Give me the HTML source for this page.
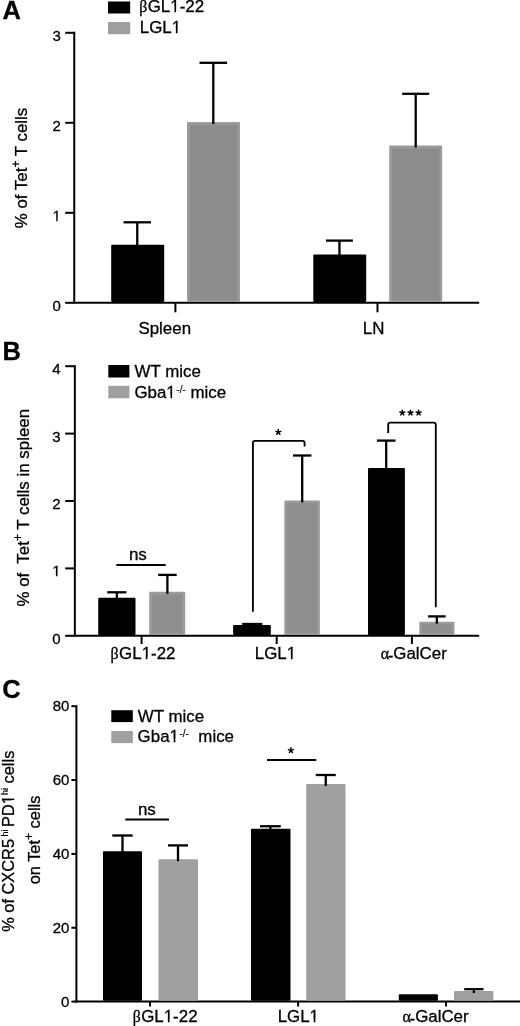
<!DOCTYPE html>
<html><head><meta charset="utf-8"><style>
html,body{margin:0;padding:0;background:#fff;width:520px;height:1026px;overflow:hidden}
svg{display:block;will-change:transform}
text{font-family:"Liberation Sans", sans-serif;fill:#000;stroke:#000;stroke-width:0.3px}
</style></head><body>
<svg width="520" height="1026" viewBox="0 0 520 1026">
<text x="2.60" y="18.80" font-size="25.5" text-anchor="start" font-weight="bold">A</text>
<line x1="65.20" y1="302.80" x2="74.25" y2="302.80" stroke="#000" stroke-width="2.0" stroke-linecap="butt"/>
<text x="60.80" y="310.80" font-size="15" text-anchor="end" font-weight="normal">0</text>
<line x1="65.20" y1="212.80" x2="74.25" y2="212.80" stroke="#000" stroke-width="2.0" stroke-linecap="butt"/>
<text x="60.80" y="220.80" font-size="15" text-anchor="end" font-weight="normal">1</text>
<line x1="65.20" y1="122.80" x2="74.25" y2="122.80" stroke="#000" stroke-width="2.0" stroke-linecap="butt"/>
<text x="60.80" y="130.80" font-size="15" text-anchor="end" font-weight="normal">2</text>
<line x1="65.20" y1="32.80" x2="74.25" y2="32.80" stroke="#000" stroke-width="2.0" stroke-linecap="butt"/>
<text x="60.80" y="40.80" font-size="15" text-anchor="end" font-weight="normal">3</text>
<line x1="74.25" y1="31.80" x2="74.25" y2="303.80" stroke="#000" stroke-width="2.0" stroke-linecap="butt"/>
<line x1="74.25" y1="302.80" x2="479.20" y2="302.80" stroke="#000" stroke-width="2.0" stroke-linecap="butt"/>
<line x1="175.40" y1="302.80" x2="175.40" y2="312.30" stroke="#000" stroke-width="2.0" stroke-linecap="butt"/>
<line x1="377.50" y1="302.80" x2="377.50" y2="312.30" stroke="#000" stroke-width="2.0" stroke-linecap="butt"/>
<text x="164.75" y="334.20" font-size="16.9" text-anchor="middle" font-weight="normal">Spleen</text>
<text x="373.60" y="334.40" font-size="16.9" text-anchor="middle" font-weight="normal">LN</text>
<g transform="translate(27.00,168.00) rotate(-90)"><text x="0" y="0" font-size="16.9" text-anchor="middle">% of Tet<tspan font-size="12" dy="-7.2">+</tspan><tspan dy="7.2"> T cells</tspan></text></g>
<rect x="111.20" y="244.80" width="53.00" height="57.20" rx="1" fill="#000"/>
<line x1="137.25" y1="222.30" x2="137.25" y2="245.80" stroke="#000" stroke-width="2.3" stroke-linecap="butt"/>
<line x1="123.50" y1="222.30" x2="151.00" y2="222.30" stroke="#000" stroke-width="2.3" stroke-linecap="butt"/>
<rect x="187.00" y="122.00" width="53.00" height="180.00" rx="1" fill="#9b9b9b"/>
<rect x="189.80" y="124.80" width="47.40" height="175.70" rx="0" fill="#8c8c8c"/>
<line x1="213.30" y1="62.80" x2="213.30" y2="124.00" stroke="#000" stroke-width="2.3" stroke-linecap="butt"/>
<line x1="199.50" y1="62.80" x2="227.10" y2="62.80" stroke="#000" stroke-width="2.3" stroke-linecap="butt"/>
<rect x="313.30" y="254.60" width="52.90" height="47.40" rx="1" fill="#000"/>
<line x1="339.45" y1="240.60" x2="339.45" y2="255.60" stroke="#000" stroke-width="2.3" stroke-linecap="butt"/>
<line x1="326.00" y1="240.60" x2="352.90" y2="240.60" stroke="#000" stroke-width="2.3" stroke-linecap="butt"/>
<rect x="389.20" y="145.50" width="53.00" height="156.50" rx="1" fill="#9b9b9b"/>
<rect x="392.00" y="148.30" width="47.40" height="152.20" rx="0" fill="#8c8c8c"/>
<line x1="415.70" y1="93.80" x2="415.70" y2="147.50" stroke="#000" stroke-width="2.3" stroke-linecap="butt"/>
<line x1="402.20" y1="93.80" x2="429.20" y2="93.80" stroke="#000" stroke-width="2.3" stroke-linecap="butt"/>
<rect x="108.00" y="1.50" width="22.20" height="12.00" rx="0" fill="#000"/>
<text x="139.20" y="12.30" font-size="16.9" text-anchor="start" font-weight="normal"><tspan font-family="Liberation Serif" font-size="15.8">β</tspan><tspan dx="0.5">GL1-22</tspan></text>
<rect x="108.00" y="22.00" width="22.20" height="12.20" rx="0" fill="#a0a0a0"/>
<text x="139.80" y="33.20" font-size="16.9" text-anchor="start" font-weight="normal">LGL1</text>
<text x="2.40" y="360.40" font-size="25.5" text-anchor="start" font-weight="bold">B</text>
<line x1="65.20" y1="635.80" x2="74.85" y2="635.80" stroke="#000" stroke-width="2.0" stroke-linecap="butt"/>
<text x="60.60" y="643.80" font-size="15" text-anchor="end" font-weight="normal">0</text>
<line x1="65.20" y1="568.40" x2="74.85" y2="568.40" stroke="#000" stroke-width="2.0" stroke-linecap="butt"/>
<text x="60.60" y="576.40" font-size="15" text-anchor="end" font-weight="normal">1</text>
<line x1="65.20" y1="501.00" x2="74.85" y2="501.00" stroke="#000" stroke-width="2.0" stroke-linecap="butt"/>
<text x="60.60" y="509.00" font-size="15" text-anchor="end" font-weight="normal">2</text>
<line x1="65.20" y1="433.60" x2="74.85" y2="433.60" stroke="#000" stroke-width="2.0" stroke-linecap="butt"/>
<text x="60.60" y="441.60" font-size="15" text-anchor="end" font-weight="normal">3</text>
<line x1="65.20" y1="366.20" x2="74.85" y2="366.20" stroke="#000" stroke-width="2.0" stroke-linecap="butt"/>
<text x="60.60" y="374.20" font-size="15" text-anchor="end" font-weight="normal">4</text>
<line x1="74.85" y1="365.20" x2="74.85" y2="636.80" stroke="#000" stroke-width="2.0" stroke-linecap="butt"/>
<line x1="74.85" y1="635.80" x2="479.20" y2="635.80" stroke="#000" stroke-width="2.0" stroke-linecap="butt"/>
<line x1="141.60" y1="635.80" x2="141.60" y2="644.00" stroke="#000" stroke-width="2.0" stroke-linecap="butt"/>
<line x1="276.70" y1="635.80" x2="276.70" y2="644.00" stroke="#000" stroke-width="2.0" stroke-linecap="butt"/>
<line x1="411.90" y1="635.80" x2="411.90" y2="644.00" stroke="#000" stroke-width="2.0" stroke-linecap="butt"/>
<text x="143.00" y="659.30" font-size="16.9" text-anchor="middle" font-weight="normal"><tspan font-family="Liberation Serif" font-size="15.8">β</tspan><tspan dx="0.5">GL1-22</tspan></text>
<text x="275.50" y="659.30" font-size="16.9" text-anchor="middle" font-weight="normal">LGL1</text>
<text x="413.70" y="659.30" font-size="16.9" text-anchor="middle" font-weight="normal"><tspan font-family="Liberation Serif" font-size="16">α</tspan><tspan dx="-1.4" dy="1.6">-</tspan><tspan dy="-1.6">GalCer</tspan></text>
<g transform="translate(28.70,507.70) rotate(-90)"><text x="0" y="0" font-size="16.9" text-anchor="middle">% of&#160; Tet<tspan font-size="12" dy="-7.2">+</tspan><tspan dy="7.2"> T cells in spleen</tspan></text></g>
<rect x="98.20" y="597.70" width="37.30" height="37.30" rx="1" fill="#000"/>
<line x1="116.85" y1="592.30" x2="116.85" y2="598.70" stroke="#000" stroke-width="2.3" stroke-linecap="butt"/>
<line x1="107.30" y1="592.30" x2="126.40" y2="592.30" stroke="#000" stroke-width="2.3" stroke-linecap="butt"/>
<rect x="149.20" y="591.80" width="36.00" height="43.20" rx="1" fill="#9b9b9b"/>
<rect x="152.00" y="594.60" width="30.40" height="38.90" rx="0" fill="#8e8e8e"/>
<line x1="167.40" y1="574.90" x2="167.40" y2="593.80" stroke="#000" stroke-width="2.3" stroke-linecap="butt"/>
<line x1="158.10" y1="574.90" x2="176.70" y2="574.90" stroke="#000" stroke-width="2.3" stroke-linecap="butt"/>
<rect x="233.10" y="625.00" width="37.70" height="10.00" rx="1" fill="#000"/>
<line x1="252.25" y1="624.00" x2="252.25" y2="626.00" stroke="#000" stroke-width="2.3" stroke-linecap="butt"/>
<line x1="242.20" y1="624.00" x2="262.30" y2="624.00" stroke="#000" stroke-width="2.3" stroke-linecap="butt"/>
<rect x="284.30" y="500.40" width="35.60" height="134.60" rx="1" fill="#9b9b9b"/>
<rect x="287.10" y="503.20" width="30.00" height="130.30" rx="0" fill="#8e8e8e"/>
<line x1="302.20" y1="455.50" x2="302.20" y2="502.40" stroke="#000" stroke-width="2.3" stroke-linecap="butt"/>
<line x1="293.00" y1="455.50" x2="311.40" y2="455.50" stroke="#000" stroke-width="2.3" stroke-linecap="butt"/>
<rect x="368.00" y="468.10" width="36.90" height="166.90" rx="1" fill="#000"/>
<line x1="386.20" y1="440.60" x2="386.20" y2="469.10" stroke="#000" stroke-width="2.3" stroke-linecap="butt"/>
<line x1="376.90" y1="440.60" x2="395.50" y2="440.60" stroke="#000" stroke-width="2.3" stroke-linecap="butt"/>
<rect x="419.30" y="621.70" width="35.20" height="13.30" rx="1" fill="#9b9b9b"/>
<rect x="422.10" y="624.50" width="29.60" height="9.00" rx="0" fill="#8e8e8e"/>
<line x1="436.85" y1="616.40" x2="436.85" y2="623.70" stroke="#000" stroke-width="2.3" stroke-linecap="butt"/>
<line x1="428.10" y1="616.40" x2="445.60" y2="616.40" stroke="#000" stroke-width="2.3" stroke-linecap="butt"/>
<line x1="116.40" y1="565.00" x2="165.70" y2="565.00" stroke="#000" stroke-width="2.0" stroke-linecap="butt"/>
<text x="137.90" y="559.60" font-size="17" text-anchor="middle" font-weight="normal">ns</text>
<path d="M252.9,611.7L252.9,443.0Q252.9,440.8 255.1,440.8L302.40000000000003,440.8Q304.6,440.8 304.6,443.0L304.6,446.4" fill="none" stroke="#000" stroke-width="1.85"/>
<path d="M278.30,432.20L278.30,429.60M278.30,432.20L280.77,431.40M278.30,432.20L279.83,434.30M278.30,432.20L276.77,434.30M278.30,432.20L275.83,431.40" stroke="#000" stroke-width="1.5" stroke-linecap="round" fill="none"/>
<path d="M388.2,433.0L388.2,424.8Q388.2,422.6 390.4,422.6L433.6,422.6Q435.8,422.6 435.8,424.8L435.8,607.2" fill="none" stroke="#000" stroke-width="1.85"/>
<path d="M402.30,412.80L402.30,410.20M402.30,412.80L404.77,412.00M402.30,412.80L403.83,414.90M402.30,412.80L400.77,414.90M402.30,412.80L399.83,412.00" stroke="#000" stroke-width="1.5" stroke-linecap="round" fill="none"/>
<path d="M410.50,412.80L410.50,410.20M410.50,412.80L412.97,412.00M410.50,412.80L412.03,414.90M410.50,412.80L408.97,414.90M410.50,412.80L408.03,412.00" stroke="#000" stroke-width="1.5" stroke-linecap="round" fill="none"/>
<path d="M418.60,412.80L418.60,410.20M418.60,412.80L421.07,412.00M418.60,412.80L420.13,414.90M418.60,412.80L417.07,414.90M418.60,412.80L416.13,412.00" stroke="#000" stroke-width="1.5" stroke-linecap="round" fill="none"/>
<rect x="108.30" y="365.00" width="21.10" height="12.50" rx="0" fill="#000"/>
<text x="134.60" y="376.70" font-size="16.9" text-anchor="start" font-weight="normal">WT mice</text>
<rect x="108.30" y="385.80" width="21.10" height="12.50" rx="0" fill="#a0a0a0"/>
<text x="134.40" y="397.80" font-size="16.9" text-anchor="start" font-weight="normal">Gba1<tspan font-size="10" dx="0.6" dy="-5" style="stroke-width:0.12px">-/-</tspan><tspan dy="5"> mice</tspan></text>
<text x="2.20" y="698.00" font-size="25.5" text-anchor="start" font-weight="bold">C</text>
<line x1="71.40" y1="1001.60" x2="76.40" y2="1001.60" stroke="#000" stroke-width="2.0" stroke-linecap="butt"/>
<text x="69.40" y="1006.60" font-size="15" text-anchor="end" font-weight="normal">0</text>
<line x1="71.40" y1="927.75" x2="76.40" y2="927.75" stroke="#000" stroke-width="2.0" stroke-linecap="butt"/>
<text x="69.40" y="932.75" font-size="15" text-anchor="end" font-weight="normal">20</text>
<line x1="71.40" y1="853.90" x2="76.40" y2="853.90" stroke="#000" stroke-width="2.0" stroke-linecap="butt"/>
<text x="69.40" y="858.90" font-size="15" text-anchor="end" font-weight="normal">40</text>
<line x1="71.40" y1="780.05" x2="76.40" y2="780.05" stroke="#000" stroke-width="2.0" stroke-linecap="butt"/>
<text x="69.40" y="785.05" font-size="15" text-anchor="end" font-weight="normal">60</text>
<line x1="71.40" y1="706.20" x2="76.40" y2="706.20" stroke="#000" stroke-width="2.0" stroke-linecap="butt"/>
<text x="69.40" y="711.20" font-size="15" text-anchor="end" font-weight="normal">80</text>
<line x1="76.40" y1="705.20" x2="76.40" y2="1002.60" stroke="#000" stroke-width="2.0" stroke-linecap="butt"/>
<line x1="76.40" y1="1001.60" x2="520.00" y2="1001.60" stroke="#000" stroke-width="2.0" stroke-linecap="butt"/>
<line x1="150.00" y1="1001.60" x2="150.00" y2="1006.50" stroke="#000" stroke-width="2.0" stroke-linecap="butt"/>
<line x1="298.10" y1="1001.60" x2="298.10" y2="1006.50" stroke="#000" stroke-width="2.0" stroke-linecap="butt"/>
<line x1="446.00" y1="1001.60" x2="446.00" y2="1006.50" stroke="#000" stroke-width="2.0" stroke-linecap="butt"/>
<text x="165.10" y="1021.90" font-size="16.9" text-anchor="middle" font-weight="normal"><tspan font-family="Liberation Serif" font-size="15.8">β</tspan><tspan dx="0.5">GL1-22</tspan></text>
<text x="298.30" y="1021.90" font-size="16.9" text-anchor="middle" font-weight="normal">LGL1</text>
<text x="435.60" y="1021.90" font-size="16.9" text-anchor="middle" font-weight="normal"><tspan font-family="Liberation Serif" font-size="16">α</tspan><tspan dx="-1.4" dy="1.6">-</tspan><tspan dy="-1.6">GalCer</tspan></text>
<g transform="translate(13.60,841.25) rotate(-90)"><text x="0" y="0" font-size="16.4" text-anchor="middle">% of CXCR5<tspan font-size="9" dy="-5.5" style="stroke-width:0.12px">&#160;hi&#160;</tspan><tspan dy="5.5">PD1</tspan><tspan font-size="9" dy="-5.5" style="stroke-width:0.12px">hi</tspan><tspan dy="5.5"> cells</tspan></text></g>
<g transform="translate(39.80,840.00) rotate(-90)"><text x="0" y="0" font-size="16.4" text-anchor="middle">on Tet<tspan font-size="12" dy="-7.2">+</tspan><tspan dy="7.2"> cells</tspan></text></g>
<rect x="103.00" y="851.30" width="39.00" height="149.50" rx="1" fill="#000"/>
<line x1="122.50" y1="835.50" x2="122.50" y2="852.30" stroke="#000" stroke-width="2.3" stroke-linecap="butt"/>
<line x1="112.30" y1="835.50" x2="132.70" y2="835.50" stroke="#000" stroke-width="2.3" stroke-linecap="butt"/>
<rect x="158.50" y="859.20" width="39.50" height="141.60" rx="1" fill="#a0a0a0"/>
<line x1="178.00" y1="845.40" x2="178.00" y2="861.20" stroke="#000" stroke-width="2.3" stroke-linecap="butt"/>
<line x1="168.00" y1="845.40" x2="188.00" y2="845.40" stroke="#000" stroke-width="2.3" stroke-linecap="butt"/>
<rect x="251.00" y="828.75" width="39.50" height="172.05" rx="1" fill="#000"/>
<line x1="270.38" y1="826.25" x2="270.38" y2="829.75" stroke="#000" stroke-width="2.3" stroke-linecap="butt"/>
<line x1="260.00" y1="826.25" x2="280.75" y2="826.25" stroke="#000" stroke-width="2.3" stroke-linecap="butt"/>
<rect x="306.20" y="784.00" width="39.30" height="216.80" rx="1" fill="#a0a0a0"/>
<line x1="325.75" y1="775.00" x2="325.75" y2="786.00" stroke="#000" stroke-width="2.3" stroke-linecap="butt"/>
<line x1="315.75" y1="775.00" x2="335.75" y2="775.00" stroke="#000" stroke-width="2.3" stroke-linecap="butt"/>
<rect x="398.80" y="994.20" width="39.10" height="6.60" rx="1" fill="#000"/>
<rect x="454.00" y="991.00" width="39.30" height="9.80" rx="1" fill="#a0a0a0"/>
<line x1="473.85" y1="989.20" x2="473.85" y2="993.00" stroke="#000" stroke-width="2.3" stroke-linecap="butt"/>
<line x1="464.20" y1="989.20" x2="483.50" y2="989.20" stroke="#000" stroke-width="2.3" stroke-linecap="butt"/>
<line x1="125.30" y1="819.60" x2="169.00" y2="819.60" stroke="#000" stroke-width="2.0" stroke-linecap="butt"/>
<text x="146.90" y="815.00" font-size="17" text-anchor="middle" font-weight="normal">ns</text>
<line x1="267.00" y1="760.00" x2="316.25" y2="760.00" stroke="#000" stroke-width="2.0" stroke-linecap="butt"/>
<path d="M290.90,750.40L290.90,747.80M290.90,750.40L293.37,749.60M290.90,750.40L292.43,752.50M290.90,750.40L289.37,752.50M290.90,750.40L288.43,749.60" stroke="#000" stroke-width="1.5" stroke-linecap="round" fill="none"/>
<rect x="111.30" y="710.20" width="21.50" height="11.90" rx="0" fill="#000"/>
<text x="137.80" y="721.50" font-size="16.9" text-anchor="start" font-weight="normal">WT mice</text>
<rect x="111.30" y="731.00" width="21.50" height="12.10" rx="0" fill="#a0a0a0"/>
<text x="137.60" y="741.70" font-size="16.9" text-anchor="start" font-weight="normal">Gba1<tspan font-size="10" dx="0.6" dy="-4.8" style="stroke-width:0.12px">-/-</tspan><tspan dy="4.8">&#160; mice</tspan></text>
<rect x="52.80" y="218.68" width="3.33" height="3.42" fill="#fff"/><rect x="57.65" y="218.68" width="3.31" height="3.42" fill="#fff"/>
<rect x="170.77" y="10.04" width="3.66" height="3.56" fill="#fff"/><rect x="176.12" y="10.04" width="3.63" height="3.56" fill="#fff"/>
<rect x="172.21" y="30.94" width="3.66" height="3.56" fill="#fff"/><rect x="177.57" y="30.94" width="3.63" height="3.56" fill="#fff"/>
<rect x="52.60" y="574.28" width="3.33" height="3.42" fill="#fff"/><rect x="57.45" y="574.28" width="3.31" height="3.42" fill="#fff"/>
<rect x="142.12" y="657.04" width="3.66" height="3.56" fill="#fff"/><rect x="147.48" y="657.04" width="3.63" height="3.56" fill="#fff"/>
<rect x="287.25" y="657.04" width="3.66" height="3.56" fill="#fff"/><rect x="292.60" y="657.04" width="3.63" height="3.56" fill="#fff"/>
<rect x="166.81" y="395.54" width="3.66" height="3.56" fill="#fff"/><rect x="172.17" y="395.54" width="3.63" height="3.56" fill="#fff"/>
<rect x="164.22" y="1019.64" width="3.66" height="3.56" fill="#fff"/><rect x="169.58" y="1019.64" width="3.63" height="3.56" fill="#fff"/>
<rect x="310.05" y="1019.64" width="3.66" height="3.56" fill="#fff"/><rect x="315.40" y="1019.64" width="3.63" height="3.56" fill="#fff"/>
<g transform="translate(13.60,841.25) rotate(-90)"><rect x="37.56" y="-2.23" width="3.57" height="3.53" fill="#fff"/><rect x="42.78" y="-2.23" width="3.55" height="3.53" fill="#fff"/></g>
<rect x="170.01" y="739.44" width="3.66" height="3.56" fill="#fff"/><rect x="175.37" y="739.44" width="3.63" height="3.56" fill="#fff"/>
</svg>
</body></html>
